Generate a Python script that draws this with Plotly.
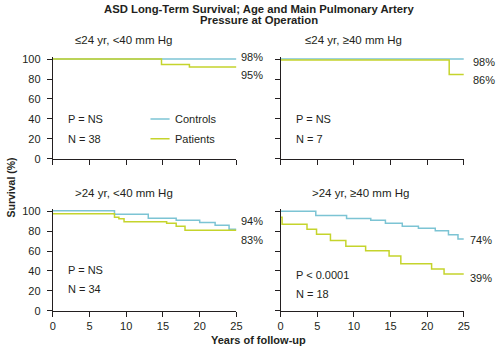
import plotly.graph_objects as go

# ---- data ----
panel_titles = ["\u226424 yr, <40 mm Hg", "\u226424 yr, \u226540 mm Hg",
                ">24 yr, <40 mm Hg", ">24 yr, \u226540 mm Hg"]

tl_ctrl_t = [0, 25]
tl_ctrl_s = [100, 100]
tl_pat_t = [0, 14.8, 18.6, 25]
tl_pat_s = [100, 94.5, 92, 92]

tr_ctrl_t = [0, 25]
tr_ctrl_s = [100, 100]
tr_pat_t = [0, 23.0, 25]
tr_pat_s = [99, 84.5, 84.5]

bl_ctrl_t = [0, 8.4, 13.0, 16.8, 20.0, 22.1, 24.0, 25]
bl_ctrl_s = [100.5, 97, 93, 91, 88.6, 86, 82, 82]
bl_pat_t = [0, 8.4, 9.0, 9.7, 15.5, 16.8, 18.0, 25]
bl_pat_s = [97.5, 94, 92.5, 89.5, 88, 85, 81, 81]

br_ctrl_t = [0, 4.8, 9.0, 12.3, 14.3, 16.6, 18.8, 21.1, 22.9, 24.2, 25]
br_ctrl_s = [100, 95.7, 92.8, 90.9, 88, 85, 83, 80.5, 76.5, 72, 72]
br_pat_t = [0, 0.2, 3.6, 4.9, 6.8, 8.9, 11.6, 14.8, 16.4, 20.6, 22.3, 25]
br_pat_s = [94, 87, 82, 77, 70.7, 64.8, 60.2, 55, 47.2, 42, 37, 37]

end_labels = [("98%", "95%"), ("98%", "86%"), ("94%", "83%"), ("74%", "39%")]
end_label_y = [(101.7, 84.5), (97.5, 78.9), (90.3, 70.8), (71.4, 33.2)]
p_texts = ["P = NS", "P = NS", "P = NS", "P < 0.0001"]
n_texts = ["N = 38", "N = 7", "N = 34", "N = 18"]
pn_y = [(40, 20), (40, 20), (40.5, 21.5), (35.6, 17)]

x_ticks = [0, 5, 10, 15, 20, 25]
y_ticks = [0, 20, 40, 60, 80, 100]

CTRL = "#7cc4d4"
PAT = "#c5d42c"
TXT = "#231f20"
FONT = "Liberation Sans, Arial, sans-serif"

fig = go.Figure()

series = [
    (tl_ctrl_t, tl_ctrl_s, tl_pat_t, tl_pat_s),
    (tr_ctrl_t, tr_ctrl_s, tr_pat_t, tr_pat_s),
    (bl_ctrl_t, bl_ctrl_s, bl_pat_t, bl_pat_s),
    (br_ctrl_t, br_ctrl_s, br_pat_t, br_pat_s),
]

for i, (ct, cs, pt, ps) in enumerate(series):
    xa = "x" if i == 0 else f"x{i+1}"
    ya = "y" if i == 0 else f"y{i+1}"
    fig.add_trace(go.Scatter(x=ct, y=cs, mode="lines", line=dict(color=CTRL, width=1.5, shape="hv"),
                             xaxis=xa, yaxis=ya, name="Controls", showlegend=False))
    fig.add_trace(go.Scatter(x=pt, y=ps, mode="lines", line=dict(color=PAT, width=1.5, shape="hv"),
                             xaxis=xa, yaxis=ya, name="Patients", showlegend=False))

W, H = 500, 353
xdom = [[50.7 / W, 237.7 / W], [282.7 / W, 469.3 / W]]
ydom_top = [1 - 159.3 / H, 1 - (159.3 - 102 * 1.026) / H]
ydom_bot = [1 - 315.7 / H, 1 - (315.7 - 102 * 1.024) / H]

layout = dict(width=W, height=H, margin=dict(l=0, r=0, t=0, b=0),
              paper_bgcolor="white", plot_bgcolor="white",
              font=dict(family=FONT, size=11, color=TXT))

for i in range(4):
    col = i % 2
    row = i // 2
    xk = "xaxis" if i == 0 else f"xaxis{i+1}"
    yk = "yaxis" if i == 0 else f"yaxis{i+1}"
    ya = "y" if i == 0 else f"y{i+1}"
    xa = "x" if i == 0 else f"x{i+1}"
    layout[xk] = dict(domain=xdom[col], range=[0, 25], anchor=ya, tickvals=x_ticks,
                      showticklabels=(row == 1), ticks="outside", ticklen=5, tickwidth=1,
                      tickcolor=TXT, showline=True, linecolor=TXT, linewidth=1,
                      showgrid=False, zeroline=False, fixedrange=True,
                      tickfont=dict(size=11, color=TXT))
    layout[yk] = dict(domain=ydom_top if row == 0 else ydom_bot, range=[0, 102], anchor=xa,
                      tickvals=y_ticks, showticklabels=(col == 0), ticks="outside", ticklen=5,
                      tickwidth=1, tickcolor=TXT, showline=True, linecolor=TXT, linewidth=1,
                      showgrid=False, zeroline=False, fixedrange=True, ticklabelstandoff=4,
                      tickfont=dict(size=11, color=TXT))

fig.update_layout(**layout)

ann = []
# main title (two lines)
ann.append(dict(text="<b>ASD Long-Term Survival; Age and Main Pulmonary Artery</b>", x=261 / W, y=1 - 5 / H,
                xref="paper", yref="paper", xanchor="center", yanchor="middle", showarrow=False,
                font=dict(size=11.3, color=TXT)))
ann.append(dict(text="<b>Pressure at Operation</b>", x=261 / W, y=1 - 16.5 / H,
                xref="paper", yref="paper", xanchor="center", yanchor="middle", showarrow=False,
                font=dict(size=11.3, color=TXT)))
# panel titles
title_pos = [(123, 37.5), (357, 37.5), (123, 195), (364, 195)]
for t, (px, py) in zip(panel_titles, title_pos):
    ann.append(dict(text=t, x=px / W, y=1 - py / H, xref="paper", yref="paper",
                    xanchor="center", yanchor="middle", showarrow=False,
                    font=dict(size=11.5, color=TXT)))
# axis titles
ann.append(dict(text="<b>Years of follow-up</b>", x=260 / W, y=1 - 346 / H, xref="paper", yref="paper",
                xanchor="center", yanchor="middle", showarrow=False, font=dict(size=11, color=TXT)))
ann.append(dict(text="<b>Survival (%)</b>", x=8 / W, y=1 - 189 / H, xref="paper", yref="paper",
                xanchor="center", yanchor="middle", showarrow=False, textangle=-90,
                font=dict(size=10.5, color=TXT)))

shifts = [3, 7, 3, 4]
for i in range(4):
    xa = "x" if i == 0 else f"x{i+1}"
    ya = "y" if i == 0 else f"y{i+1}"
    for lab, yy in zip(end_labels[i], end_label_y[i]):
        ann.append(dict(text=lab, x=25, y=yy, xref=xa, yref=ya, xanchor="left", yanchor="middle",
                        xshift=shifts[i], showarrow=False, font=dict(size=11, color=TXT)))
    ann.append(dict(text=p_texts[i], x=1.8, y=pn_y[i][0], xref=xa, yref=ya, xanchor="left",
                    yanchor="middle", showarrow=False, font=dict(size=11, color=TXT)))
    ann.append(dict(text=n_texts[i], x=1.8, y=pn_y[i][1], xref=xa, yref=ya, xanchor="left",
                    yanchor="middle", showarrow=False, font=dict(size=11, color=TXT)))

# legend in first panel
shapes = []
for name, col, yy in [("Controls", CTRL, 40), ("Patients", PAT, 20)]:
    shapes.append(dict(type="line", x0=13.3, x1=15.9, y0=yy, y1=yy, xref="x", yref="y",
                       line=dict(color=col, width=1.5)))
    ann.append(dict(text=name, x=16.4, y=yy, xref="x", yref="y", xanchor="left", yanchor="middle",
                    showarrow=False, font=dict(size=11, color=TXT)))

fig.update_layout(annotations=ann, shapes=shapes)
fig.write_html("out.html")
